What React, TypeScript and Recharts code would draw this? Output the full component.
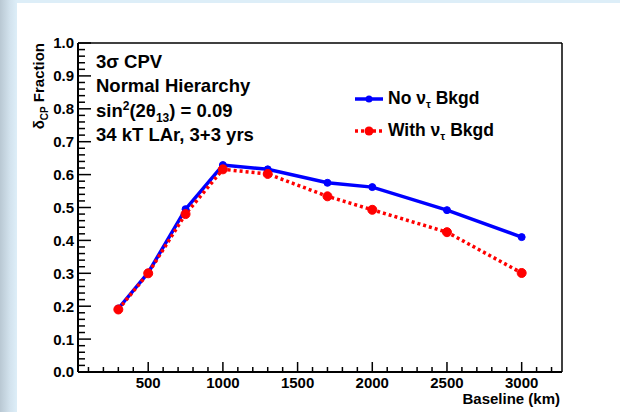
import React from 'react';
import { LineChart, Line, XAxis, YAxis, ReferenceLine } from 'recharts';

// Baseline in km, fraction of delta_CP values with 3 sigma CPV sensitivity
const baselines = [300, 500, 750, 1000, 1300, 1700, 2000, 2500, 3000];
const noTauBkgd = [0.193, 0.302, 0.495, 0.629, 0.616, 0.575, 0.562, 0.492, 0.41];
const withTauBkgd = [0.19, 0.3, 0.48, 0.616, 0.602, 0.534, 0.493, 0.425, 0.301];

const xTickLabels = [500, 1000, 1500, 2000, 2500, 3000];
const yTickLabels = [0, 0.1, 0.2, 0.3, 0.4, 0.5, 0.6, 0.7, 0.8, 0.9, 1.0];

// minor ticks: every 100 km on x, every 0.02 on y
const xTicks = Array.from({ length: 32 }, (_, i) => (i + 1) * 100);
const yTicks = Array.from({ length: 51 }, (_, i) => Math.round(i * 2) / 100);

const chartData = baselines.map((b, i) => ({
    baseline: b,
    noTau: noTauBkgd[i],
    withTau: withTauBkgd[i],
}));

const FONT = '"Liberation Sans", Arial, Helvetica, sans-serif';
const BLUE = '#0000ff';
const RED = '#ff0000';

const YTick = (props: any) => {
    const { x, y, payload } = props;
    const v = payload.value;
    const major = yTickLabels.some(t => Math.abs(t - v) < 1e-6);
    return (
        <g>
            <line x1={x} x2={x + (major ? 13 : 7)} y1={y} y2={y} stroke="#000" strokeWidth={1.5} />
            {major && (
                <text x={x - 4} y={y} dy="0.36em" textAnchor="end" fontFamily={FONT} fontWeight="bold" fontSize={15} fill="#000">
                    {v.toFixed(1)}
                </text>
            )}
        </g>
    );
};

const XTick = (props: any) => {
    const { x, y, payload } = props;
    const v = payload.value;
    const major = xTickLabels.includes(v);
    return (
        <g>
            <line x1={x} x2={x} y1={y} y2={y - (major ? 10 : 5)} stroke="#000" strokeWidth={1.5} />
            {major && (
                <text x={x} y={y + 16} textAnchor="middle" fontFamily={FONT} fontWeight="bold" fontSize={15} fill="#000">
                    {v}
                </text>
            )}
        </g>
    );
};

export default function App() {
    return (
        <div style={{ position: 'fixed', left: 0, top: 0, width: 620, height: 412, background: '#ddeef8', overflow: 'hidden' }}>
            <div style={{ position: 'absolute', left: 0, top: 0, width: 17, height: 412, background: 'linear-gradient(to right, #b9c8d3, #d3e3ee 60%, #ddeef8)' }} />
            <div style={{ position: 'absolute', left: 17, top: 3, width: 603, height: 409, background: '#ffffff' }} />
            <div style={{ position: 'absolute', left: 0, top: 0 }}>
                <LineChart width={620} height={412} data={chartData} margin={{ top: 43, right: 58, bottom: 10, left: 38 }}>
                    <XAxis
                        dataKey="baseline"
                        type="number"
                        domain={[30, 3270]}
                        ticks={xTicks}
                        interval={0}
                        height={30}
                        tickSize={0}
                        tickMargin={0}
                        tick={<XTick />}
                        axisLine={{ stroke: '#000', strokeWidth: 2 }}
                        tickLine={false}
                        allowDataOverflow
                    />
                    <YAxis
                        type="number"
                        domain={[0, 1]}
                        ticks={yTicks}
                        interval={0}
                        width={40}
                        tickSize={0}
                        tickMargin={0}
                        tick={<YTick />}
                        axisLine={{ stroke: '#000', strokeWidth: 2 }}
                        tickLine={false}
                        allowDataOverflow
                    />
                    <ReferenceLine y={1} stroke="#000" strokeWidth={1.5} />
                    <ReferenceLine x={3270} stroke="#000" strokeWidth={1.5} />
                    <Line
                        dataKey="noTau"
                        stroke={BLUE}
                        strokeWidth={3.5}
                        dot={{ r: 3.5, fill: BLUE, stroke: BLUE, strokeWidth: 1 }}
                        isAnimationActive={false}
                    />
                    <Line
                        dataKey="withTau"
                        stroke={RED}
                        strokeWidth={3.5}
                        strokeDasharray="3 3"
                        dot={{ r: 4.5, fill: RED, stroke: RED, strokeWidth: 1, strokeDasharray: '0' }}
                        isAnimationActive={false}
                    />
                </LineChart>
            </div>
            <svg width={620} height={412} style={{ position: 'absolute', left: 0, top: 0, pointerEvents: 'none' }}>
                <g fontFamily={FONT} fontWeight="bold" fill="#000">
                    <text x={96} y={68} fontSize={18.5}>3σ CPV</text>
                    <text x={96} y={92} fontSize={18.5}>Normal Hierarchy</text>
                    <text x={96} y={116.5} fontSize={18.5}>
                        sin<tspan dy={-7} fontSize={12}>2</tspan>
                        <tspan dy={7}>(2θ</tspan>
                        <tspan dy={5} fontSize={12}>13</tspan>
                        <tspan dy={-5}>) = 0.09</tspan>
                    </text>
                    <text x={96} y={141} fontSize={18.5}>34 kT LAr, 3+3 yrs</text>

                    <line x1={355} x2={383} y1={99} y2={99} stroke={BLUE} strokeWidth={3.5} />
                    <circle cx={369} cy={99} r={3.5} fill={BLUE} />
                    <text x={388} y={104} fontSize={17.5}>
                        No ν<tspan dy={4} fontSize={11}>τ</tspan>
                        <tspan dy={-4}> Bkgd</tspan>
                    </text>

                    <line x1={355} x2={383} y1={131} y2={131} stroke={RED} strokeWidth={3.5} strokeDasharray="3 3" />
                    <circle cx={369} cy={131} r={4.5} fill={RED} />
                    <text x={388} y={135.5} fontSize={17.5}>
                        With ν<tspan dy={4} fontSize={11}>τ</tspan>
                        <tspan dy={-4}> Bkgd</tspan>
                    </text>

                    <text x={560} y={404} fontSize={15} textAnchor="end">Baseline (km)</text>

                    <text transform="translate(43.5,43) rotate(-90)" textAnchor="end" fontSize={15}>
                        δ<tspan dy={4} fontSize={10}>CP</tspan>
                        <tspan dy={-4}> Fraction</tspan>
                    </text>
                </g>
            </svg>
        </div>
    );
}
